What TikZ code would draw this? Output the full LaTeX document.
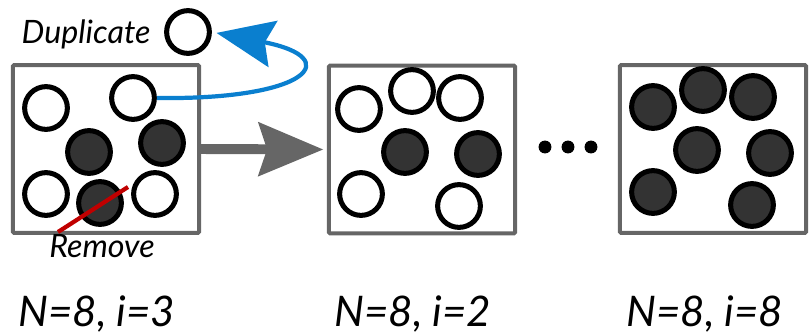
\documentclass[tikz,border=0pt]{standalone}
\usepackage{fontspec}
\setmainfont{Lato}
\usetikzlibrary{arrows.meta}

\definecolor{boxgray}{HTML}{666666}
\definecolor{dupblue}{HTML}{0A7FCF}
\definecolor{cutred}{HTML}{C00000}
\definecolor{ballfill}{HTML}{333333}

\begin{document}
\begin{tikzpicture}[x=0.03cm, y=-0.03cm,
	box/.style={rectangle, draw=boxgray, line width=3.4pt, rounded corners=1pt, minimum width=159pt, minimum height=143pt, inner sep=0},
	open/.style={circle, draw=black, fill=white, line width=4.3pt, minimum size=36.5pt, inner sep=0},
	full/.style={open, fill=ballfill},
	dot/.style={circle, fill=black, minimum size=11pt, inner sep=0},
	lbl/.style={font=\fontsize{36}{40}\selectfont\itshape, anchor=base},
	small/.style={font=\fontsize{27.5}{30}\selectfont\itshape, anchor=base}]
	\useasboundingbox (0,0) rectangle (810,335);

	% Boxes
	\node[box] (b1) at (106,149) {};
	\node[box] (b2) at (422,149.5) {};
	\node[box] (b3) at (713,149) {};

	% Balls, first box
	\node[open] (a1) at (46,108) {};
	\node[open] (a2) at (133,98) {};
	\node[full] (a3) at (89,152) {};
	\node[full] (a4) at (162,143) {};
	\node[open] (a5) at (46,194) {};
	\node[full] (a6) at (100,203) {};
	\node[open] (a7) at (155,194) {};

	% Balls, second box
	\node[open] (c1) at (359,109) {};
	\node[open] (c2) at (412,91) {};
	\node[open] (c3) at (460,98) {};
	\node[full] (c4) at (405,152) {};
	\node[full] (c5) at (478,154) {};
	\node[open] (c6) at (361,194) {};
	\node[open] (c7) at (459,206) {};

	% Balls, last box
	\node[full] (e1) at (653,107) {};
	\node[full] (e2) at (703,90) {};
	\node[full] (e3) at (753,97) {};
	\node[full] (e4) at (697,150) {};
	\node[full] (e5) at (770,153) {};
	\node[full] (e6) at (653,192) {};
	\node[full] (e7) at (752,205) {};

	% Dots
	\node[dot] (d1) at (545,147) {};
	\node[dot] (d2) at (568,147) {};
	\node[dot] (d3) at (591,147) {};

	% Duplicate
	\node[open] (dup) at (188,32) {};
	\node[small] (duptxt) at (86,43) {Duplicate};
	\draw[dupblue, line width=3.6pt, -{Stealth[length=49pt, width=40pt, inset=7pt, sep=4pt]}]
		(a2.east) .. controls (310,100) and (345,58) .. (dup.east);

	% Remove
	\coordinate (cut1) at (58,232);
	\coordinate (cut2) at (128,187);
	\draw[cutred, line width=3.6pt] (cut1) -- (cut2);
	\node[small] (rmtxt) at (102,257) {Remove};

	% Step
	\draw[boxgray, line width=8.5pt, -{Stealth[length=55pt, width=45pt, inset=7pt, sep=3pt]}] (b1.east) -- (b2.west);

	% Labels
	\node[lbl] (l1) at (97,326) {N=8, i=3};
	\node[lbl] (l2) at (413,326) {N=8, i=2};
	\node[lbl] (l3) at (705,326) {N=8, i=8};
\end{tikzpicture}
\end{document}
